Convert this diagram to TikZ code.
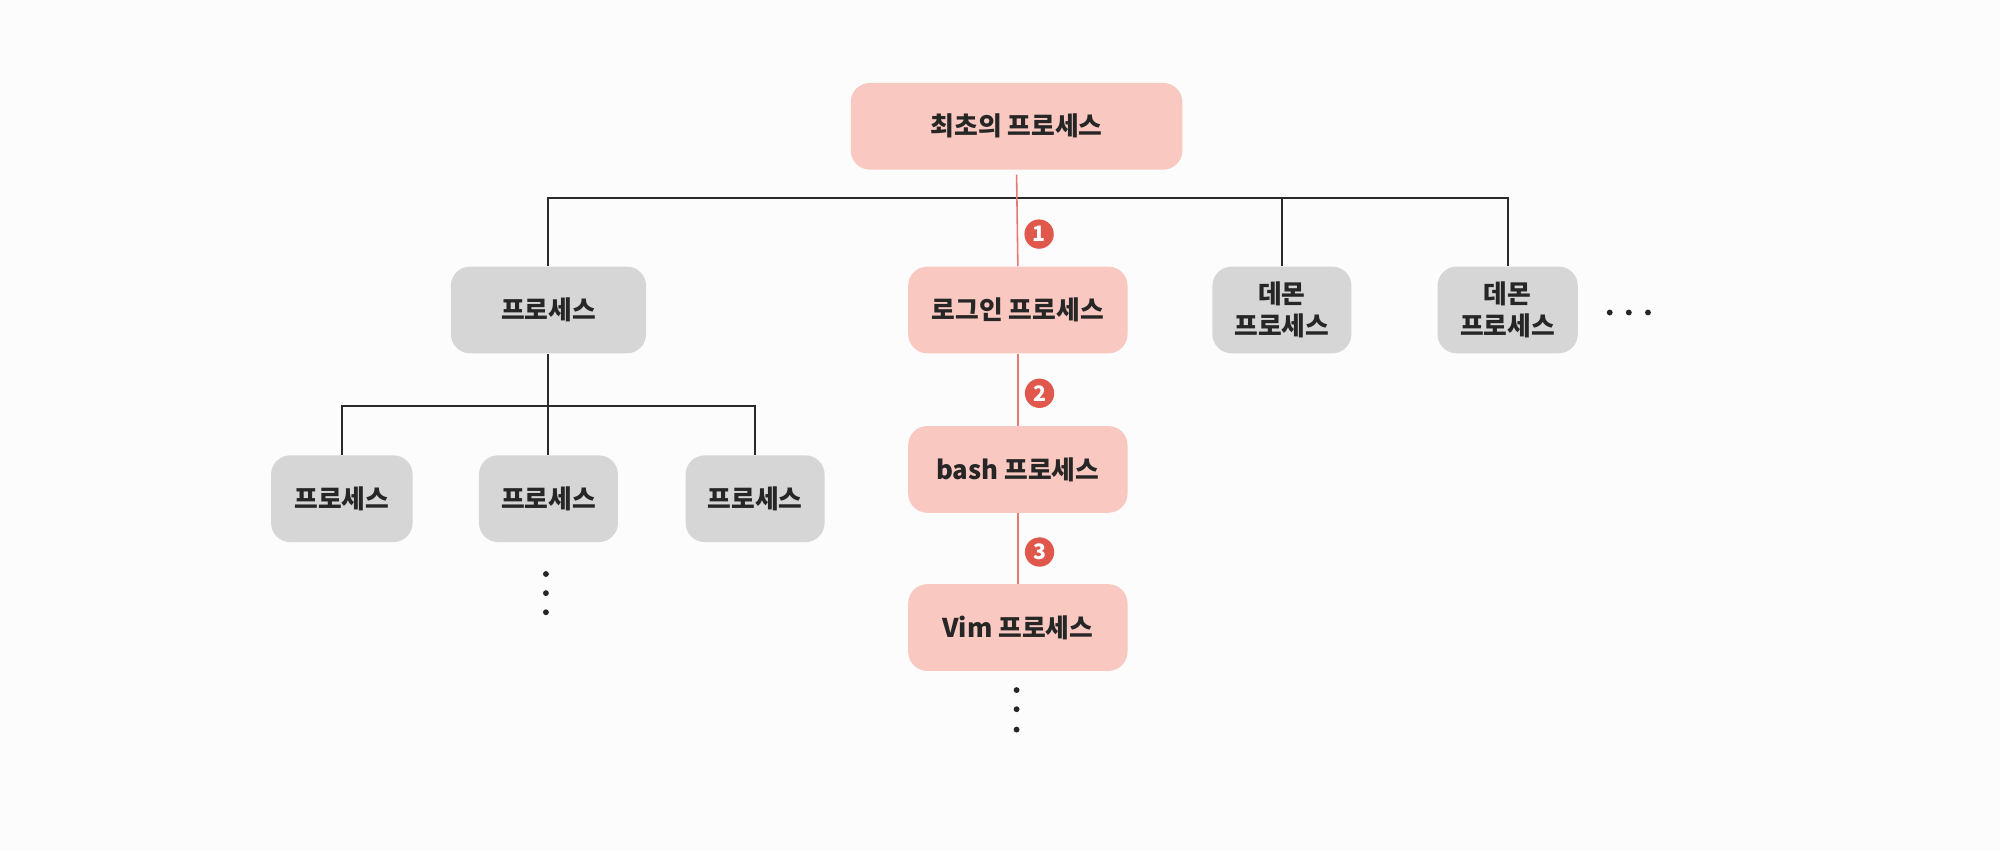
\documentclass[tikz,border=0pt]{standalone}
\usepackage{fontspec}
\newfontfamily\kr{Noto Sans CJK KR}
\usepackage{tikz}
\usetikzlibrary{positioning, calc}
\definecolor{mPink}{HTML}{F9C8C0}
\definecolor{mGray}{HTML}{D6D6D6}
\definecolor{mRed}{HTML}{E0574C}
\definecolor{mLine}{HTML}{2A2A2A}

\begin{document}
\begin{tikzpicture}[
    x=0.02cm, y=-0.02cm,
    proc/.style={rectangle, fill=mGray, text centered, rounded corners=0.3cm, minimum height=1.36cm, align=center, font=\kr\bfseries\fontsize{11.5}{14}\selectfont, text=black!85},
    pink/.style={proc, fill=mPink},
    tree/.style={mLine, line width=0.9pt},
    redline/.style={mRed!80, line width=0.7pt},
    badge/.style={circle, fill=mRed, text=white, inner sep=0pt, minimum size=0.46cm, font=\kr\bfseries\fontsize{9.5}{9.5}\selectfont}
]
    \fill[white!99!black] (0,0) rectangle (1568,667);
    \useasboundingbox (0,0) rectangle (1568,667);

    \node[pink, minimum width=5.2cm] (first) at (797,99) {최초의 프로세스};
    \node[proc, minimum width=3.06cm] (proc) at (430,243) {프로세스};
    \node[pink, minimum width=3.44cm] (login) at (798,243) {로그인 프로세스};
    \node[proc, minimum width=2.18cm] (daemonA) at (1005,243) {데몬\\프로세스};
    \node[proc, minimum width=2.2cm] (daemonB) at (1182,243) {데몬\\프로세스};
    \node[pink, minimum width=3.44cm] (bash) at (798,368) {bash 프로세스};
    \node[pink, minimum width=3.44cm] (vim) at (798,492) {Vim 프로세스};
    \node[proc, minimum width=2.22cm] (childA) at (268,391) {프로세스};
    \node[proc, minimum width=2.18cm] (childB) at (430,391) {프로세스};
    \node[proc, minimum width=2.18cm] (childC) at (592,391) {프로세스};

    \coordinate (bus) at (797,155);
    \coordinate (subbus) at (430,318);

    \draw[tree] (proc.north) |- (bus) -| (daemonB.north);
    \draw[tree] (daemonA.north) -- (daemonA.north |- bus);
    \draw[tree] (proc.south) -- (subbus);
    \draw[tree] (childA.north) |- (subbus) -| (childC.north);
    \draw[tree] (childB.north) -- (subbus);

    \draw[redline] ([yshift=-2]first.south) -- node[badge, pos=0.65, xshift=0.34cm] (one) {1} (login.north);
    \draw[redline] (login.south) -- node[badge, pos=0.55, xshift=0.34cm] (two) {2} (bash.north);
    \draw[redline] (bash.south) -- node[badge, pos=0.55, xshift=0.34cm] (three) {3} (vim.north);

    % ellipsis dots
    \foreach \x in {1262,1277,1292} \fill[black!85] (\x,245) circle (2.3);
    \foreach \y in {450,465,480} \fill[black!85] (428,\y) circle (2.3);
    \foreach \y in {541,556,572} \fill[black!85] (797,\y) circle (2.3);
\end{tikzpicture}
\end{document}
